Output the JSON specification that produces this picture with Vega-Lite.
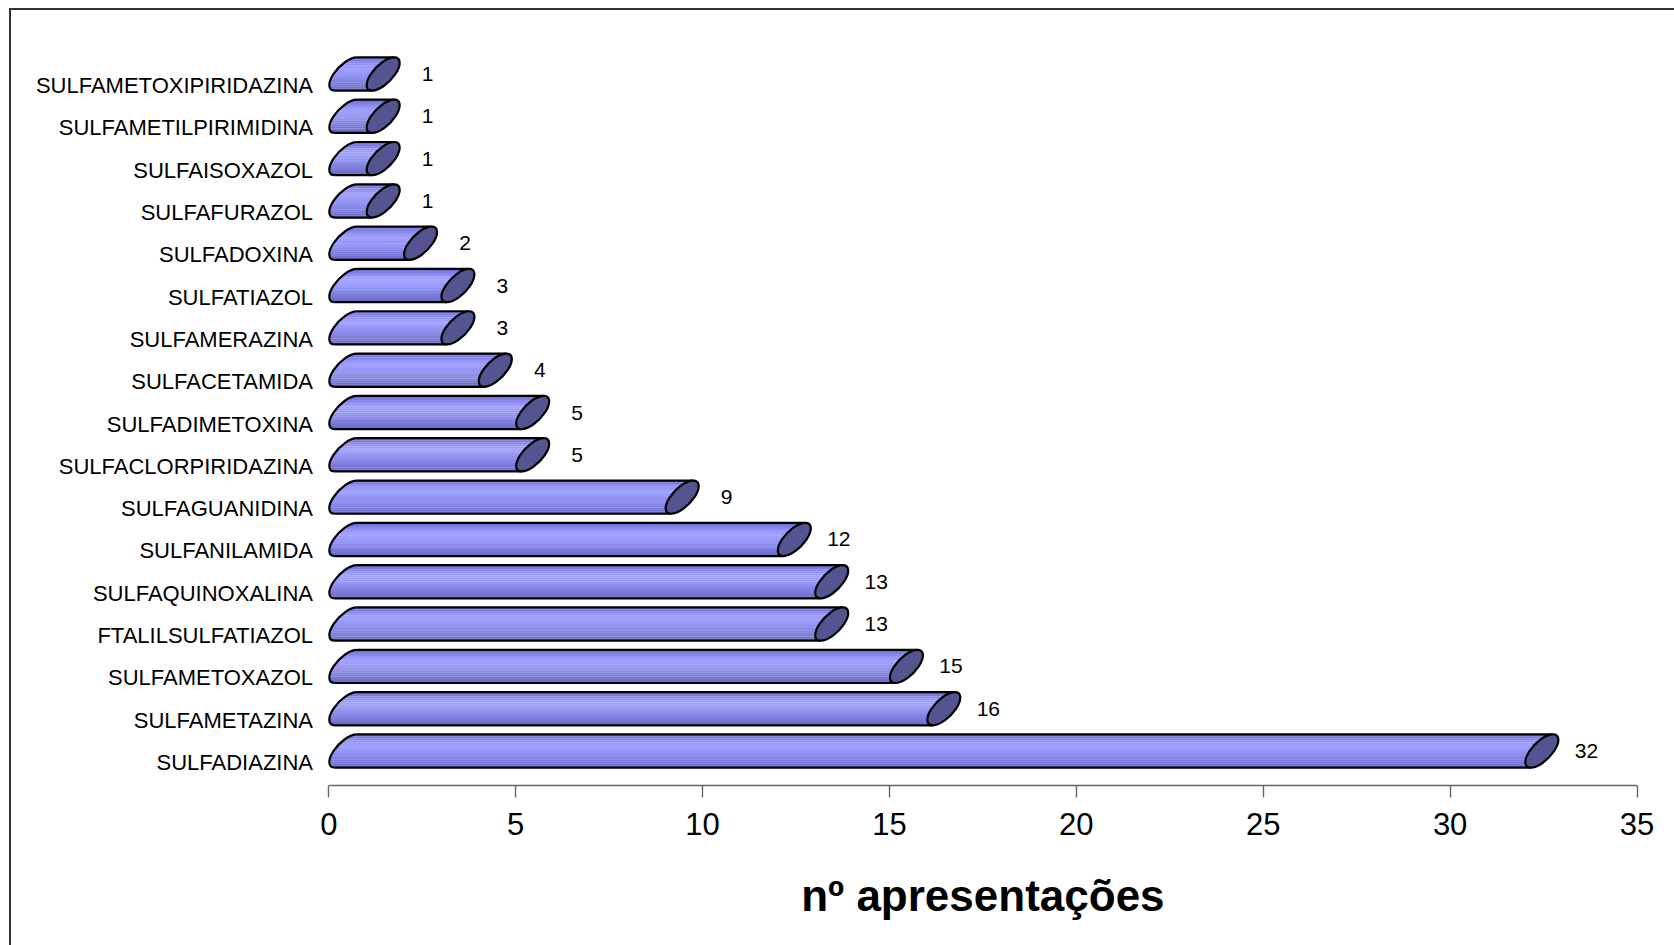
{
  "$schema": "https://vega.github.io/schema/vega-lite/v6.json",
  "autosize": {"type": "none"},
  "padding": {"left": 10, "top": 9, "right": -10, "bottom": -10},
  "width": 1674,
  "height": 946,
  "background": "white",
  "config": {
    "font": "Liberation Sans",
    "view": {"stroke": "#333333", "strokeWidth": 2, "fill": "white"}
  },
  "data": {
    "values": [
      {"farmaco": "SULFAMETOXIPIRIDAZINA", "n": 1},
      {"farmaco": "SULFAMETILPIRIMIDINA", "n": 1},
      {"farmaco": "SULFAISOXAZOL", "n": 1},
      {"farmaco": "SULFAFURAZOL", "n": 1},
      {"farmaco": "SULFADOXINA", "n": 2},
      {"farmaco": "SULFATIAZOL", "n": 3},
      {"farmaco": "SULFAMERAZINA", "n": 3},
      {"farmaco": "SULFACETAMIDA", "n": 4},
      {"farmaco": "SULFADIMETOXINA", "n": 5},
      {"farmaco": "SULFACLORPIRIDAZINA", "n": 5},
      {"farmaco": "SULFAGUANIDINA", "n": 9},
      {"farmaco": "SULFANILAMIDA", "n": 12},
      {"farmaco": "SULFAQUINOXALINA", "n": 13},
      {"farmaco": "FTALILSULFATIAZOL", "n": 13},
      {"farmaco": "SULFAMETOXAZOL", "n": 15},
      {"farmaco": "SULFAMETAZINA", "n": 16},
      {"farmaco": "SULFADIAZINA", "n": 32}
    ]
  },
  "encoding": {
    "y": {
      "field": "farmaco",
      "type": "nominal",
      "sort": null,
      "scale": {"range": [43.84, 763.16], "paddingInner": 0, "paddingOuter": 0},
      "axis": {
        "title": null,
        "domain": false,
        "ticks": false,
        "tickSize": 0,
        "labelPadding": 0,
        "offset": -302.5,
        "labelOffset": 12,
        "labelFontSize": 22,
        "labelFont": "Liberation Sans",
        "labelColor": "black",
        "labelLimit": 0,
        "labelAlign": "right"
      }
    },
    "x": {
      "field": "n",
      "type": "quantitative",
      "scale": {"domain": [0, 35], "range": [318.3, 1626.5], "nice": false, "zero": true},
      "axis": {
        "title": "nº apresentações",
        "titleFont": "Liberation Sans",
        "titleFontSize": 44,
        "titleFontWeight": "bold",
        "titleColor": "black",
        "titleBaseline": "alphabetic",
        "titleY": 125,
        "values": [0, 5, 10, 15, 20, 25, 30, 35],
        "grid": false,
        "offset": -170,
        "domainColor": "#666666",
        "domainWidth": 1.4,
        "tickColor": "#666666",
        "tickWidth": 1.4,
        "tickSize": 12,
        "labelPadding": 13,
        "labelFontSize": 31,
        "labelFont": "Liberation Sans",
        "labelColor": "black",
        "labelFlush": false
      }
    }
  },
  "layer": [
    {"mark": {"type": "bar", "height": 2.3, "yOffset": -15.56, "xOffset": 27.81, "x2Offset": 23.53, "color": "#7070d8"}, "encoding": {"x2": {"datum": 0}}},
    {"mark": {"type": "bar", "height": 2.3, "yOffset": -13.49, "xOffset": 26.44, "x2Offset": 19.27, "color": "#7c7ce2"}, "encoding": {"x2": {"datum": 0}}},
    {"mark": {"type": "bar", "height": 2.3, "yOffset": -11.41, "xOffset": 25.06, "x2Offset": 16.13, "color": "#8888ec"}, "encoding": {"x2": {"datum": 0}}},
    {"mark": {"type": "bar", "height": 2.3, "yOffset": -9.34, "xOffset": 23.69, "x2Offset": 13.52, "color": "#9494f4"}, "encoding": {"x2": {"datum": 0}}},
    {"mark": {"type": "bar", "height": 2.3, "yOffset": -7.26, "xOffset": 22.31, "x2Offset": 11.25, "color": "#9c9cfa"}, "encoding": {"x2": {"datum": 0}}},
    {"mark": {"type": "bar", "height": 2.3, "yOffset": -5.19, "xOffset": 20.94, "x2Offset": 9.25, "color": "#a2a2fe"}, "encoding": {"x2": {"datum": 0}}},
    {"mark": {"type": "bar", "height": 2.3, "yOffset": -3.11, "xOffset": 19.56, "x2Offset": 7.48, "color": "#9e9efc"}, "encoding": {"x2": {"datum": 0}}},
    {"mark": {"type": "bar", "height": 2.3, "yOffset": -1.04, "xOffset": 18.19, "x2Offset": 5.91, "color": "#9898f6"}, "encoding": {"x2": {"datum": 0}}},
    {"mark": {"type": "bar", "height": 2.3, "yOffset": 1.04, "xOffset": 16.81, "x2Offset": 4.53, "color": "#9494f2"}, "encoding": {"x2": {"datum": 0}}},
    {"mark": {"type": "bar", "height": 2.3, "yOffset": 3.11, "xOffset": 15.44, "x2Offset": 3.36, "color": "#9090ee"}, "encoding": {"x2": {"datum": 0}}},
    {"mark": {"type": "bar", "height": 2.3, "yOffset": 5.19, "xOffset": 14.06, "x2Offset": 2.37, "color": "#8a8ae8"}, "encoding": {"x2": {"datum": 0}}},
    {"mark": {"type": "bar", "height": 2.3, "yOffset": 7.26, "xOffset": 12.69, "x2Offset": 1.63, "color": "#8484e2"}, "encoding": {"x2": {"datum": 0}}},
    {"mark": {"type": "bar", "height": 2.3, "yOffset": 9.34, "xOffset": 11.31, "x2Offset": 1.14, "color": "#7e7edc"}, "encoding": {"x2": {"datum": 0}}},
    {"mark": {"type": "bar", "height": 2.3, "yOffset": 11.41, "xOffset": 9.94, "x2Offset": 1.01, "color": "#7878d6"}, "encoding": {"x2": {"datum": 0}}},
    {"mark": {"type": "bar", "height": 2.3, "yOffset": 13.49, "xOffset": 8.56, "x2Offset": 1.39, "color": "#7272d0"}, "encoding": {"x2": {"datum": 0}}},
    {"mark": {"type": "bar", "height": 2.3, "yOffset": 15.56, "xOffset": 7.19, "x2Offset": 2.91, "color": "#6c6cc8"}, "encoding": {"x2": {"datum": 0}}},
    {"mark": {"type": "rule", "yOffset": -16.6, "xOffset": 28.5, "x2Offset": 28.5, "stroke": "black", "strokeWidth": 2.2}, "encoding": {"x2": {"datum": 0}}},
    {"mark": {"type": "rule", "yOffset": 16.6, "xOffset": 6.5, "x2Offset": 6.5, "stroke": "black", "strokeWidth": 2.2}, "encoding": {"x2": {"datum": 0}}},
    {
      "mark": {
        "type": "point",
        "shape": "M11,-16.6C4.21,-16.6 -6.22,-9.17 -12.3,0C-18.38,9.17 -17.79,16.6 -11,16.6",
        "size": 4,
        "filled": false,
        "stroke": "black",
        "strokeWidth": 2.2,
        "opacity": 1,
        "xOffset": 17.5
      },
      "encoding": {"x": {"datum": 0, "type": "quantitative"}}
    },
    {
      "mark": {
        "type": "point",
        "shape": "M12.3,0C18.38,-9.17 17.79,-16.6 11,-16.6C4.21,-16.6 -6.22,-9.17 -12.3,0C-18.38,9.17 -17.79,16.6 -11,16.6C-4.21,16.6 6.22,9.17 12.3,0Z",
        "size": 4,
        "filled": true,
        "fill": "#545490",
        "stroke": "black",
        "strokeWidth": 2.2,
        "opacity": 1,
        "xOffset": 17.5
      }
    },
    {
      "mark": {"type": "text", "dx": 62, "dy": 1, "fontSize": 21, "font": "Liberation Sans", "color": "black", "align": "center", "baseline": "middle"},
      "encoding": {"text": {"field": "n", "type": "quantitative"}}
    }
  ]
}
